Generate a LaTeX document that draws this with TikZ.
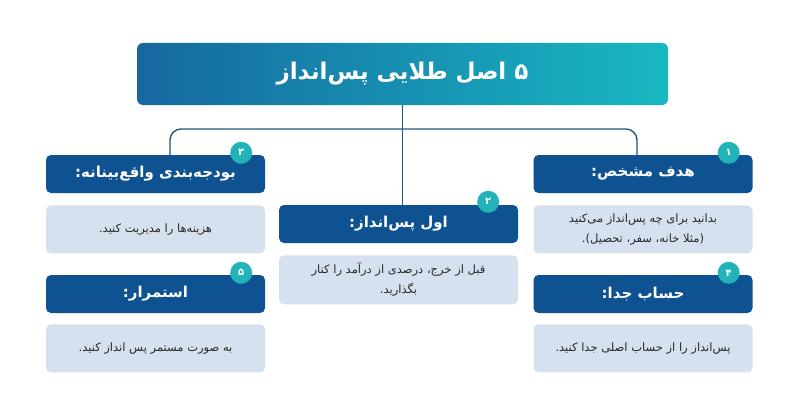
\documentclass[tikz,border=0pt]{standalone}
\usepackage{fontspec}
\usepackage{xcolor}
\usetikzlibrary{positioning}
\TeXXeTstate=1
\newfontfamily\farsi[Script=Arabic]{DejaVu Sans}
\definecolor{hdrblue}{RGB}{14,82,146}
\definecolor{bodyblue}{RGB}{213,225,238}
\definecolor{badgeteal}{RGB}{33,179,183}
\definecolor{linkblue}{RGB}{30,88,122}
\definecolor{titleleft}{RGB}{22,104,160}
\definecolor{titleright}{RGB}{24,184,194}
\definecolor{bodytext}{RGB}{40,40,40}

\begin{document}
\begin{tikzpicture}[x=1pt, y=-1pt, node distance=12pt,
    hdr/.style={rectangle, fill=hdrblue, rounded corners=5pt, minimum width=219pt, minimum height=38pt, text=white, font=\farsi\bfseries\fontsize{15}{18}\selectfont},
    body/.style={rectangle, fill=bodyblue, rounded corners=5pt, minimum width=219pt, minimum height=48pt, text=bodytext, align=center, font=\farsi\fontsize{11.5}{20}\selectfont},
    badge/.style={circle, fill=badgeteal, minimum size=22pt, inner sep=0pt, text=white, font=\farsi\bfseries\fontsize{10}{10}\selectfont},
    conn/.style={draw=linkblue, line width=1.4pt}]
    \fill[white] (0,0) rectangle (800,412);
    % title
    \node[rectangle, rounded corners=6pt, left color=titleleft, right color=titleright, minimum width=531pt, minimum height=62pt, text=white, font=\farsi\bfseries\fontsize{23}{27}\selectfont] (title) at (402.5,74) {\beginR ۵ اصل طلایی پس‌انداز\endR};
    % headers
    \node[hdr] (hdr1) at (643,174) {\beginR هدف مشخص:\endR};
    \node[hdr, minimum width=239pt] (hdr2) at (398.5,224) {\beginR اول پس‌انداز:\endR};
    \node[hdr] (hdr3) at (155.5,174) {\beginR بودجه‌بندی واقع‌بینانه:\endR};
    \node[hdr] (hdr4) at (643,294) {\beginR حساب جدا:\endR};
    \node[hdr] (hdr5) at (155.5,294) {\beginR استمرار:\endR};
    % bodies
    \node[body, below=of hdr1] (txt1) {\beginR بدانید برای چه پس‌انداز می‌کنید\endR\\\beginR (مثلا خانه، سفر، تحصیل).\endR};
    \node[body, below=of hdr2, minimum width=239pt, minimum height=49pt] (txt2) {\beginR قبل از خرج، درصدی از درآمد را کنار\endR\\\beginR بگذارید.\endR};
    \node[body, below=of hdr3] (txt3) {\beginR هزینه‌ها را مدیریت کنید.\endR};
    \node[body, below=11pt of hdr4] (txt4) {\beginR پس‌انداز را از حساب اصلی جدا کنید.\endR};
    \node[body, below=11pt of hdr5] (txt5) {\beginR به صورت مستمر پس انداز کنید.\endR};
    % connectors
    \coordinate (bl) at (170,129);
    \coordinate (br) at (637,129);
    \draw[conn] (title.south) -- (title.south |- hdr2.north);
    \draw[conn, rounded corners=11pt] (hdr3.north -| bl) |- (br) -- (hdr1.north -| br);
    % badges
    \node[badge, xshift=-24pt, yshift=2pt] (num1) at (hdr1.north east) {۱};
    \node[badge, xshift=-30pt, yshift=3pt] (num2) at (hdr2.north east) {۲};
    \node[badge, xshift=-24pt, yshift=2pt] (num3) at (hdr3.north east) {۳};
    \node[badge, xshift=-24pt, yshift=2pt] (num4) at (hdr4.north east) {۴};
    \node[badge, xshift=-24pt, yshift=2pt] (num5) at (hdr5.north east) {۵};
  \end{tikzpicture}
\end{document}
